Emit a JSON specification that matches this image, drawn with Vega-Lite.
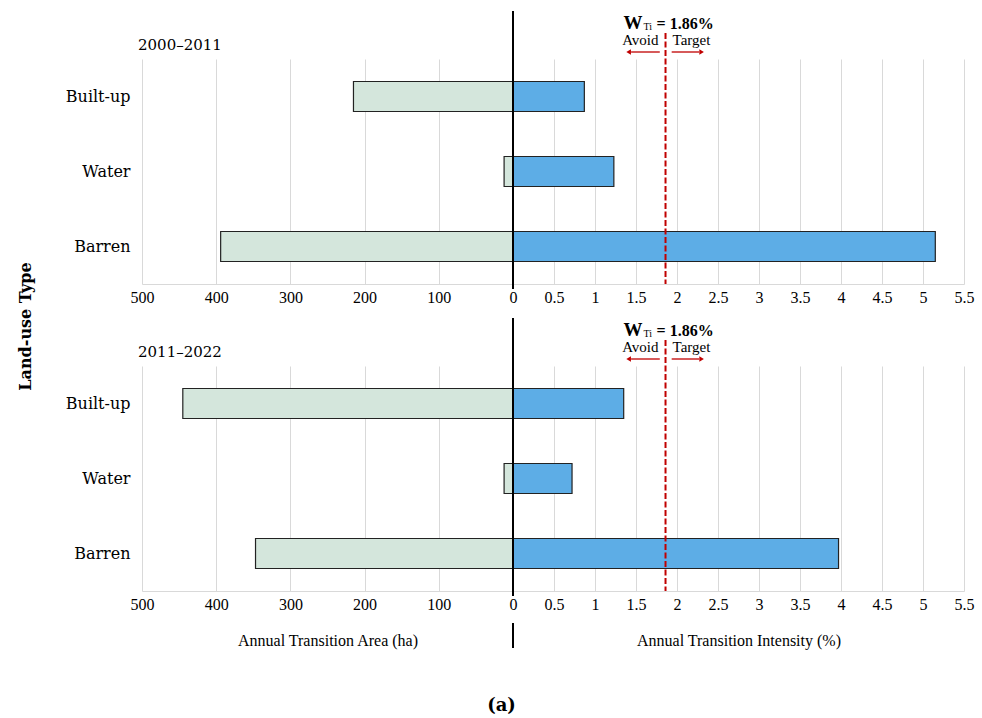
{
  "$schema": "https://vega.github.io/schema/vega-lite/v6.json",
  "background": "white",
  "padding": {"left": 17, "top": 10, "right": 10, "bottom": 10},
  "config": {
    "view": {"stroke": null},
    "axis": {"labelFont": "Liberation Serif", "titleFont": "Liberation Serif", "labelColor": "black", "titleColor": "black", "gridColor": "#d9d9d9", "domainColor": "#d9d9d9", "ticks": false}
  },
  "datasets": {
    "d": [
      {"period": "2000–2011", "type": "Built-up", "area": 215, "intensity": 0.87},
      {"period": "2000–2011", "type": "Water", "area": 12, "intensity": 1.23},
      {"period": "2000–2011", "type": "Barren", "area": 394, "intensity": 5.15},
      {"period": "2011–2022", "type": "Built-up", "area": 445, "intensity": 1.35},
      {"period": "2011–2022", "type": "Water", "area": 12, "intensity": 0.72},
      {"period": "2011–2022", "type": "Barren", "area": 347, "intensity": 3.97}
    ]
  },
  "title": {"text": "(a)", "orient": "bottom", "anchor": "middle", "font": "DejaVu Serif", "fontSize": 18, "fontWeight": "bold", "color": "black", "offset": 48, "dx": 6},
  "columns": 2,
  "bounds": "flush",
  "spacing": {"row": 82, "column": 0},
  "concat": [
    {
      "width": 371, "height": 225,
      "data": {"name": "d"},
      "transform": [{"filter": "datum.period === '2000–2011'"}],
      "title": {"text": "2000–2011", "anchor": "start", "frame": "group", "font": "DejaVu Serif", "fontSize": 15, "fontWeight": "normal", "color": "black", "offset": 6, "dx": -4},
      "mark": {"type": "bar", "fill": "#d4e6dc", "stroke": "#222222", "strokeWidth": 1.2},
      "encoding": {
        "x": {"field": "area", "type": "quantitative", "scale": {"domain": [0, 500], "reverse": true},
          "axis": {"values": [0, 100, 200, 300, 400, 500], "format": "d", "title": null, "labelFlush": false, "labelOverlap": false, "labelPadding": 5, "labelFontSize": 16}},
        "y": {"field": "type", "type": "nominal", "sort": ["Built-up", "Water", "Barren"], "scale": {"paddingInner": 0.6, "paddingOuter": 0.3},
          "axis": {"domain": false, "labelFont": "DejaVu Serif", "labelFontSize": 16, "labelPadding": 12, "title": "Land-use Type", "titleFont": "DejaVu Serif", "titleFontSize": 16, "titleFontWeight": "bold", "titleAngle": -90, "titleAlign": "center", "titleBaseline": "middle", "titleX": -117, "titleY": 267}}
      }
    },
    {
      "width": 451, "height": 225,
      "data": {"name": "d"},
      "transform": [{"filter": "datum.period === '2000–2011'"}],
      "layer": [
        {
          "mark": {"type": "bar", "fill": "#5dade6", "stroke": "#222222", "strokeWidth": 1.2},
          "encoding": {
            "x": {"field": "intensity", "type": "quantitative", "scale": {"domain": [0, 5.5]},
              "axis": {"values": [0, 0.5, 1, 1.5, 2, 2.5, 3, 3.5, 4, 4.5, 5, 5.5], "format": "~g", "labelExpr": "datum.value === 0 ? '' : datum.label", "title": null, "labelFlush": false, "labelOverlap": false, "labelPadding": 5, "labelFontSize": 16}},
            "y": {"field": "type", "type": "nominal", "sort": ["Built-up", "Water", "Barren"], "scale": {"paddingInner": 0.6, "paddingOuter": 0.3}, "axis": null}
          }
        },
        {"data": {"values": [{}]}, "mark": {"type": "rule", "color": "#c00000", "strokeWidth": 2, "strokeDash": [6, 2.5], "y": -26, "y2": "height"}, "encoding": {"x": {"datum": 1.86}}},
        {"data": {"values": [{}]}, "mark": {"type": "rule", "color": "black", "strokeWidth": 2, "y": -48, "y2": 230}, "encoding": {"x": {"datum": 0}}},
        {"data": {"values": [{}]}, "mark": {"type": "text", "text": "W", "font": "Liberation Serif", "fontSize": 19, "fontWeight": "bold", "align": "left", "baseline": "alphabetic", "dx": -42, "y": -30, "color": "black"}, "encoding": {"x": {"datum": 1.86}}},
        {"data": {"values": [{}]}, "mark": {"type": "text", "text": "Ti", "font": "Liberation Serif", "fontSize": 10, "align": "left", "baseline": "alphabetic", "dx": -22, "y": -29, "color": "black"}, "encoding": {"x": {"datum": 1.86}}},
        {"data": {"values": [{}]}, "mark": {"type": "text", "text": "= 1.86%", "font": "Liberation Serif", "fontSize": 16, "fontWeight": "bold", "align": "left", "baseline": "alphabetic", "dx": -9, "y": -30, "color": "black"}, "encoding": {"x": {"datum": 1.86}}},
        {"data": {"values": [{}]}, "mark": {"type": "text", "text": "Avoid", "font": "Liberation Serif", "fontSize": 15, "align": "right", "baseline": "alphabetic", "dx": -7, "y": -14, "color": "black"}, "encoding": {"x": {"datum": 1.86}}},
        {"data": {"values": [{}]}, "mark": {"type": "text", "text": "Target", "font": "Liberation Serif", "fontSize": 15, "align": "left", "baseline": "alphabetic", "dx": 7, "y": -14, "color": "black"}, "encoding": {"x": {"datum": 1.86}}},
        {"data": {"values": [{}]}, "mark": {"type": "rule", "color": "#c00000", "strokeWidth": 1.3, "y": -7}, "encoding": {"x": {"datum": 1.79}, "x2": {"datum": 1.44}}},
        {"data": {"values": [{}]}, "mark": {"type": "rule", "color": "#c00000", "strokeWidth": 1.3, "y": -7}, "encoding": {"x": {"datum": 1.935}, "x2": {"datum": 2.27}}},
        {"data": {"values": [{}]}, "mark": {"type": "point", "shape": "triangle-left", "filled": true, "size": 28, "opacity": 1, "color": "#c00000", "y": -7}, "encoding": {"x": {"datum": 1.41}}},
        {"data": {"values": [{}]}, "mark": {"type": "point", "shape": "triangle-right", "filled": true, "size": 28, "opacity": 1, "color": "#c00000", "y": -7}, "encoding": {"x": {"datum": 2.30}}}
      ]
    },
    {
      "width": 371, "height": 225,
      "data": {"name": "d"},
      "transform": [{"filter": "datum.period === '2011–2022'"}],
      "title": {"text": "2011–2022", "anchor": "start", "frame": "group", "font": "DejaVu Serif", "fontSize": 15, "fontWeight": "normal", "color": "black", "offset": 6, "dx": -4},
      "mark": {"type": "bar", "fill": "#d4e6dc", "stroke": "#222222", "strokeWidth": 1.2},
      "encoding": {
        "x": {"field": "area", "type": "quantitative", "scale": {"domain": [0, 500], "reverse": true},
          "axis": {"values": [0, 100, 200, 300, 400, 500], "format": "d", "title": "Annual Transition Area (ha)", "titleFontSize": 16, "titleFontWeight": "normal", "titlePadding": 20, "labelFlush": false, "labelOverlap": false, "labelPadding": 5, "labelFontSize": 16}},
        "y": {"field": "type", "type": "nominal", "sort": ["Built-up", "Water", "Barren"], "scale": {"paddingInner": 0.6, "paddingOuter": 0.3},
          "axis": {"domain": false, "labelFont": "DejaVu Serif", "labelFontSize": 16, "labelPadding": 12, "title": null}}
      }
    },
    {
      "width": 451, "height": 225,
      "data": {"name": "d"},
      "transform": [{"filter": "datum.period === '2011–2022'"}],
      "layer": [
        {
          "mark": {"type": "bar", "fill": "#5dade6", "stroke": "#222222", "strokeWidth": 1.2},
          "encoding": {
            "x": {"field": "intensity", "type": "quantitative", "scale": {"domain": [0, 5.5]},
              "axis": {"values": [0, 0.5, 1, 1.5, 2, 2.5, 3, 3.5, 4, 4.5, 5, 5.5], "format": "~g", "labelExpr": "datum.value === 0 ? '' : datum.label", "title": "Annual Transition Intensity (%)", "titleFontSize": 16, "titleFontWeight": "normal", "titlePadding": 20, "labelFlush": false, "labelOverlap": false, "labelPadding": 5, "labelFontSize": 16}},
            "y": {"field": "type", "type": "nominal", "sort": ["Built-up", "Water", "Barren"], "scale": {"paddingInner": 0.6, "paddingOuter": 0.3}, "axis": null}
          }
        },
        {"data": {"values": [{}]}, "mark": {"type": "rule", "color": "#c00000", "strokeWidth": 2, "strokeDash": [6, 2.5], "y": -26, "y2": "height"}, "encoding": {"x": {"datum": 1.86}}},
        {"data": {"values": [{}]}, "mark": {"type": "rule", "color": "black", "strokeWidth": 2, "y": -48, "y2": 230}, "encoding": {"x": {"datum": 0}}},
        {"data": {"values": [{}]}, "mark": {"type": "rule", "color": "black", "strokeWidth": 2, "y": 257, "y2": 282}, "encoding": {"x": {"datum": 0}}},
        {"data": {"values": [{}]}, "mark": {"type": "text", "text": "W", "font": "Liberation Serif", "fontSize": 19, "fontWeight": "bold", "align": "left", "baseline": "alphabetic", "dx": -42, "y": -30, "color": "black"}, "encoding": {"x": {"datum": 1.86}}},
        {"data": {"values": [{}]}, "mark": {"type": "text", "text": "Ti", "font": "Liberation Serif", "fontSize": 10, "align": "left", "baseline": "alphabetic", "dx": -22, "y": -29, "color": "black"}, "encoding": {"x": {"datum": 1.86}}},
        {"data": {"values": [{}]}, "mark": {"type": "text", "text": "= 1.86%", "font": "Liberation Serif", "fontSize": 16, "fontWeight": "bold", "align": "left", "baseline": "alphabetic", "dx": -9, "y": -30, "color": "black"}, "encoding": {"x": {"datum": 1.86}}},
        {"data": {"values": [{}]}, "mark": {"type": "text", "text": "Avoid", "font": "Liberation Serif", "fontSize": 15, "align": "right", "baseline": "alphabetic", "dx": -7, "y": -14, "color": "black"}, "encoding": {"x": {"datum": 1.86}}},
        {"data": {"values": [{}]}, "mark": {"type": "text", "text": "Target", "font": "Liberation Serif", "fontSize": 15, "align": "left", "baseline": "alphabetic", "dx": 7, "y": -14, "color": "black"}, "encoding": {"x": {"datum": 1.86}}},
        {"data": {"values": [{}]}, "mark": {"type": "rule", "color": "#c00000", "strokeWidth": 1.3, "y": -7}, "encoding": {"x": {"datum": 1.79}, "x2": {"datum": 1.44}}},
        {"data": {"values": [{}]}, "mark": {"type": "rule", "color": "#c00000", "strokeWidth": 1.3, "y": -7}, "encoding": {"x": {"datum": 1.935}, "x2": {"datum": 2.27}}},
        {"data": {"values": [{}]}, "mark": {"type": "point", "shape": "triangle-left", "filled": true, "size": 28, "opacity": 1, "color": "#c00000", "y": -7}, "encoding": {"x": {"datum": 1.41}}},
        {"data": {"values": [{}]}, "mark": {"type": "point", "shape": "triangle-right", "filled": true, "size": 28, "opacity": 1, "color": "#c00000", "y": -7}, "encoding": {"x": {"datum": 2.30}}}
      ]
    }
  ]
}
